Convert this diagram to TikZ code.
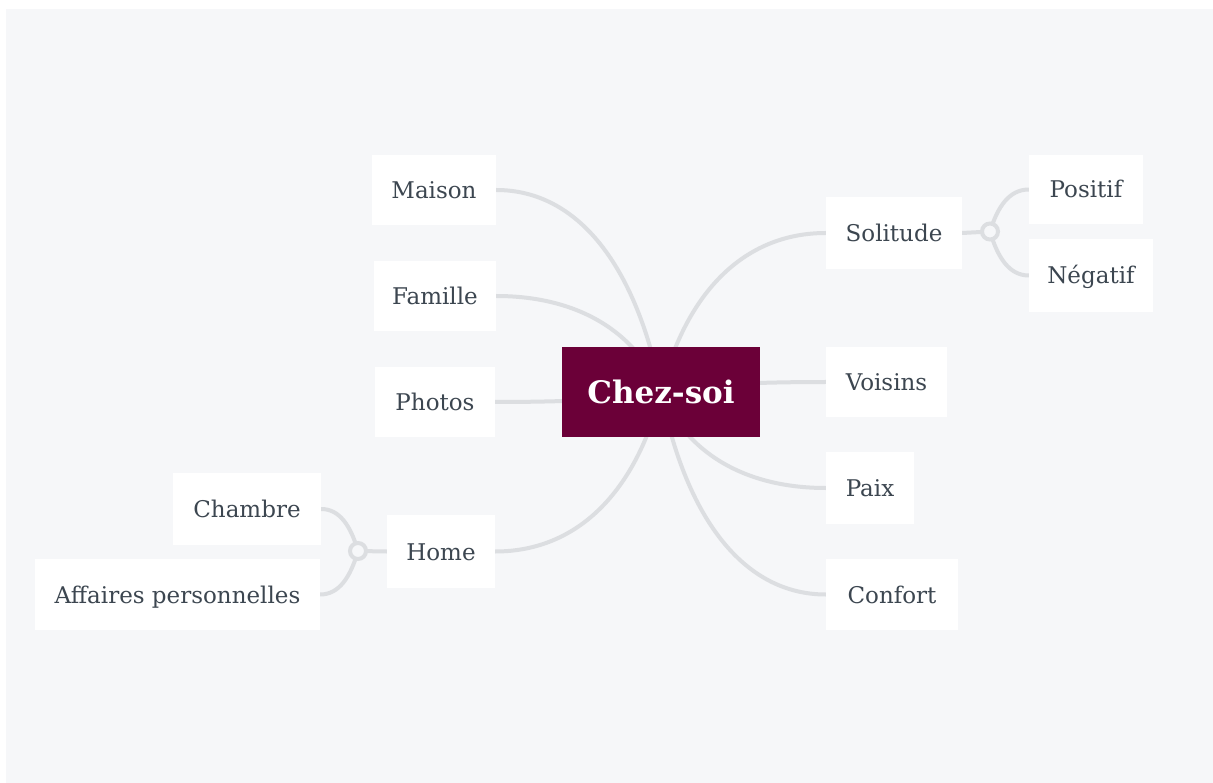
\documentclass[tikz,border=0pt]{standalone}
\usepackage{fontspec}
\setmainfont{DejaVu Serif}
\usetikzlibrary{calc}
\definecolor{bgc}{RGB}{246,247,249}
\definecolor{linec}{RGB}{220,222,225}
\definecolor{txtc}{RGB}{60,70,80}
\definecolor{rootc}{RGB}{107,0,56}
\pgfdeclarelayer{back}
\pgfdeclarelayer{links}
\pgfsetlayers{back,links,main}
\newcommand\mlink[5]{\draw[link] let \p1=(#1), \p2=(#2) in (\p1) .. controls ({\x1+#3*(\x2-\x1)},{\y1+#4*(\y2-\y1)}) and ({\x1+#5*(\x2-\x1)},{\y2}) .. (\p2);}
\tikzset{
  leaf/.style={fill=white, text=txtc, font=\fontsize{23}{27}\selectfont, inner sep=0pt, text height=17pt, text depth=0pt},
  rootbox/.style={fill=rootc, text=white, font=\fontsize{31}{37}\selectfont\bfseries, inner sep=0pt, text height=22.5pt, text depth=0pt, minimum width=198pt, minimum height=90pt},
  link/.style={draw=linec, line width=4pt, line cap=round},
  junction/.style={circle, draw=linec, line width=4pt, fill=bgc, minimum size=16pt, inner sep=0pt}
}
\begin{document}
\begin{tikzpicture}[x=1pt,y=-1pt]
\useasboundingbox (0,0) rectangle (1213,783);
\begin{pgfonlayer}{back}
\fill[white] (0,0) rectangle (1213,783);
\fill[bgc] (6,9) rectangle (1213,783);
\end{pgfonlayer}

\node[rootbox] (root) at (661,392) {Chez-soi};

\node[leaf, minimum width=124pt, minimum height=70pt] (maison) at (434,190) {Maison};
\node[leaf, minimum width=122pt, minimum height=70pt] (famille) at (435,296) {Famille};
\node[leaf, minimum width=120pt, minimum height=70pt] (photos) at (435,402) {Photos};
\node[leaf, minimum width=108pt, minimum height=73pt] (home) at (441,551.5) {Home};
\node[leaf, minimum width=148pt, minimum height=72pt] (chambre) at (247,509) {Chambre};
\node[leaf, minimum width=285pt, minimum height=71pt] (affaires) at (177.5,594.5) {Affaires personnelles};

\node[leaf, minimum width=136pt, minimum height=72pt] (solitude) at (894,233) {Solitude};
\node[leaf, minimum width=121pt, minimum height=70pt] (voisins) at (886.5,382) {Voisins};
\node[leaf, minimum width=88pt, minimum height=72pt] (paix) at (870,488) {Paix};
\node[leaf, minimum width=132pt, minimum height=71pt] (confort) at (892,594.5) {Confort};
\node[leaf, minimum width=114pt, minimum height=69pt] (positif) at (1086,189.5) {Positif};
\node[leaf, minimum width=124pt, minimum height=73pt] (negatif) at (1091,275.5) {Négatif};

\node[junction] (js) at (990,231.5) {};
\node[junction] (jh) at (358,551) {};

\begin{pgfonlayer}{links}
\mlink{root.center}{maison.east}{0.15}{0.62}{0.5}
\mlink{root.center}{famille.east}{0.15}{0.62}{0.5}
\mlink{root.center}{photos.east}{0.15}{0.62}{0.5}
\mlink{root.center}{home.east}{0.15}{0.62}{0.5}
\mlink{root.center}{solitude.west}{0.15}{0.62}{0.5}
\mlink{root.center}{voisins.west}{0.15}{0.62}{0.5}
\mlink{root.center}{paix.west}{0.15}{0.62}{0.5}
\mlink{root.center}{confort.west}{0.15}{0.62}{0.5}
\draw[link] (solitude.east) -- (js.center);
\draw[link] (home.west) -- (jh.center);
\mlink{js.center}{positif.west}{0.2}{0.6}{0.5}
\mlink{js.center}{negatif.west}{0.2}{0.6}{0.5}
\mlink{jh.center}{chambre.east}{0.2}{0.6}{0.5}
\mlink{jh.center}{affaires.east}{0.2}{0.6}{0.5}
\end{pgfonlayer}
\end{tikzpicture}
\end{document}
